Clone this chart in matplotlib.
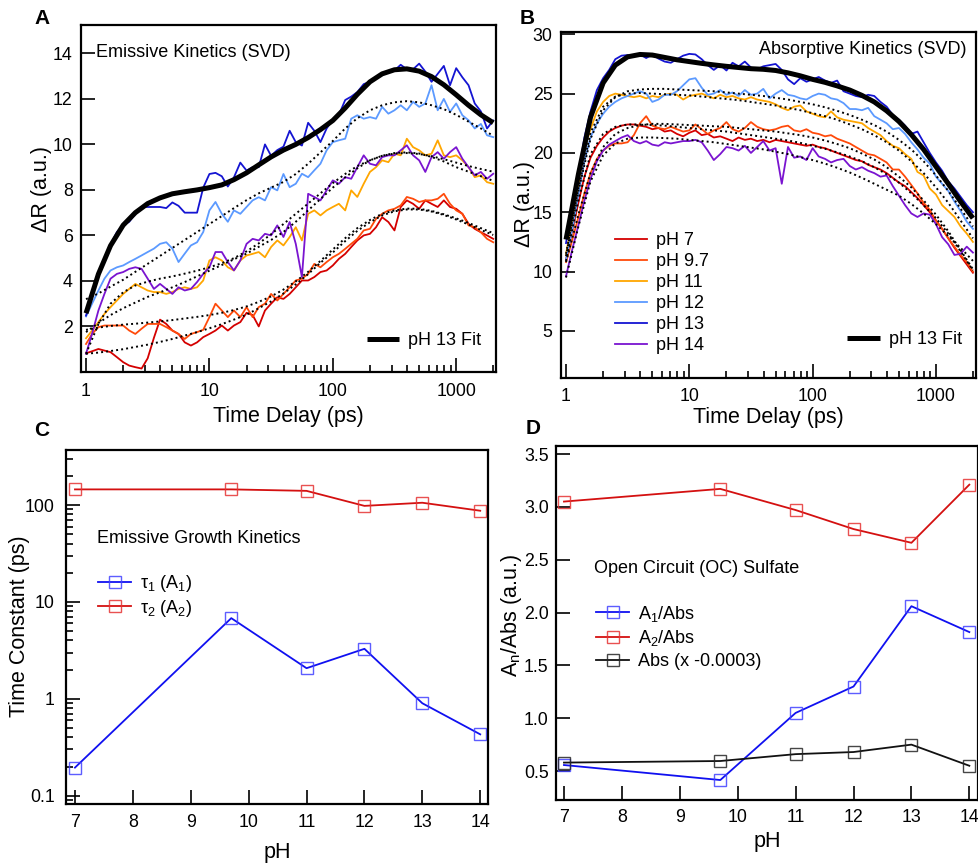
import matplotlib
matplotlib.use('Agg')
import matplotlib.pyplot as plt
from matplotlib.ticker import LogLocator, NullFormatter

plt.rcParams['font.family'] = ['Liberation Sans', 'DejaVu Sans']
plt.rcParams['mathtext.fontset'] = 'custom'
plt.rcParams['mathtext.rm'] = 'Liberation Sans'
plt.rcParams['mathtext.it'] = 'Liberation Sans:italic'
plt.rcParams['mathtext.bf'] = 'Liberation Sans:bold'

# ---------------- data ----------------
time_ps = [1.00, 1.12, 1.26, 1.41, 1.58, 1.78, 2.00, 2.24, 2.51, 2.82, 3.16, 3.55, 3.98, 4.47,
           5.01, 5.62, 6.31, 7.08, 7.94, 8.91, 10.0, 11.2, 12.6, 14.1, 15.8, 17.8, 20.0, 22.4,
           25.1, 28.2, 31.6, 35.5, 39.8, 44.7, 50.1, 56.2, 63.1, 70.8, 79.4, 89.1, 100, 112,
           126, 141, 158, 178, 200, 224, 251, 282, 316, 355, 398, 447, 501, 562, 631, 708,
           794, 891, 1000, 1122, 1259, 1413, 1585, 1778, 1995]
fit_time_ps = [1.00, 1.26, 1.58, 2.00, 2.51, 3.16, 3.98, 5.01, 6.31, 7.94, 10.0, 12.6, 15.8,
               20.0, 25.1, 31.6, 39.8, 50.1, 63.1, 79.4, 100, 126, 158, 200, 251, 316, 398,
               501, 631, 794, 1000, 1259, 1585, 1995]

ph_labels = ['pH 7', 'pH 9.7', 'pH 11', 'pH 12', 'pH 13', 'pH 14']

# Panel A: emissive kinetics (SVD)
emis_ph7 = [0.82, 0.91, 1.01, 0.94, 0.87, 0.65, 0.43, 0.28, 0.21, 0.15, 0.6, 1.5, 2.3, 2.11,
            1.82, 1.67, 1.3, 1.16, 1.3, 1.53, 1.67, 1.82, 2.04, 1.82, 2.04, 2.19, 2.6, 2.5,
            2.0, 2.7, 3.0, 3.28, 3.21, 3.43,
            3.72, 4.02, 4.02, 4.17, 4.39, 4.46, 4.68, 4.97, 5.19, 5.49, 5.78, 6.0, 6.07, 6.36,
            6.8, 6.59, 6.22, 7.25, 7.54, 7.39, 7.17, 7.54, 7.39, 7.25, 7.54, 7.25, 7.17, 6.95,
            6.51, 6.29, 6.14, 6.0, 5.85]
emis_ph97 = [1.23, 1.67, 1.97, 2.04, 2.04, 2.04, 2.04, 1.82, 1.67, 1.9, 2.11, 2.11, 2.11, 1.97,
             1.82, 1.67, 1.45, 1.67, 1.75, 1.85, 2.41, 3.0, 2.7, 2.41, 2.7, 2.41, 2.85, 2.41,
             2.85, 3.0, 3.43, 3.14, 3.43, 3.72,
             4.02, 4.1, 4.31, 4.75, 4.6, 4.83, 5.04, 5.19, 5.41, 5.63, 5.85, 6.22, 6.29, 6.73,
             6.95, 7.1, 7.17, 7.32, 7.69, 7.61, 7.47, 7.54, 7.54, 7.61, 7.83, 7.39, 7.1, 6.95,
             6.44, 6.36, 6.14, 5.85, 5.7]
emis_ph11 = [1.48, 1.82, 2.19, 2.55, 2.85, 3.14, 3.43, 3.65, 3.87, 3.72, 3.58, 3.51, 3.51, 3.43,
             3.51, 3.65, 3.72, 3.65, 3.72, 4.02, 4.9, 5.04, 4.9, 4.6, 4.46, 4.9, 5.12, 5.19,
             5.27, 5.04, 5.49, 5.78, 5.56, 5.93,
             6.36, 5.78, 6.95, 7.1, 6.88, 7.1, 7.25, 7.39, 7.1, 7.98, 7.69, 8.27, 8.79, 9.0,
             9.3, 9.22, 9.59, 9.52, 10.25, 9.88, 9.74, 9.52, 9.59, 10.18, 9.52, 9.44, 9.52, 9.3,
             9.0, 8.56, 8.64, 8.34, 8.27]
emis_ph12 = [2.44, 3.0, 3.58, 4.1, 4.46, 4.6, 4.68, 4.83, 4.97, 5.12, 5.27, 5.42, 5.63, 5.7,
             5.42, 4.83, 5.2, 5.56, 5.7, 6.15, 7.1, 7.47, 6.95, 6.6, 7.1, 6.95, 7.25, 7.54,
             7.68, 7.54, 8.12, 7.98, 8.7, 8.12,
             8.27, 8.71, 8.56, 8.86, 9.15, 9.74, 10.1, 10.18, 10.25, 11.13, 11.28, 11.13, 11.2,
             11.13, 11.65, 11.35, 11.5, 11.72, 11.5, 11.87, 11.65, 11.8, 12.6, 11.5, 12.0, 11.43,
             11.8, 11.28, 11.06, 10.7, 10.9, 10.4, 10.32]
emis_ph13 = [2.48, 3.3, 4.3, 5.0, 5.6, 6.15, 6.45, 6.6, 6.95, 7.25, 7.25, 7.25, 7.25, 7.2,
             7.45, 7.3, 7.0, 7.0, 7.0, 8.1, 8.7, 8.75, 8.6, 8.15, 8.55, 9.2, 8.85, 9.0,
             9.0, 10.0, 9.5, 9.75, 9.9, 10.6,
             10.1, 9.95, 10.95, 10.6, 10.1, 10.7, 11.1, 11.3, 11.95, 12.1, 12.3, 12.65, 12.75,
             12.95, 13.05, 13.2, 13.25, 13.5, 13.3, 13.3, 13.55, 13.2, 12.75, 13.1, 13.45, 12.6,
             13.35, 12.95, 12.6, 11.8, 11.45, 10.7, 11.05]
emis_ph14 = [0.8, 1.68, 2.7, 3.43, 4.1, 4.31, 4.39, 4.53, 4.6, 4.53, 4.1, 3.65, 3.87, 3.65,
             3.43, 3.72, 3.58, 3.65, 3.95, 4.31, 4.6, 5.27, 5.27, 4.83, 4.46, 4.9, 5.63, 5.85,
             5.78, 6.07, 6.0, 6.44, 5.93, 6.59,
             5.63, 4.17, 7.83, 7.69, 7.54, 7.98, 8.42, 8.27, 8.56, 8.49, 9.0, 9.52, 9.15, 9.08,
             9.44, 9.52, 9.52, 9.74, 9.96, 9.52, 9.3, 8.79, 9.44, 9.66, 9.37, 9.66, 9.88, 9.37,
             9.0, 8.64, 8.79, 8.49, 8.71]

emis_fit_ph7 = [0.8, 0.85, 0.92, 1.0, 1.1, 1.2, 1.32, 1.45, 1.6, 1.75, 1.92, 2.1, 2.3, 2.52,
                2.8, 3.1, 3.45, 3.85, 4.3, 4.8, 5.25, 5.75, 6.2, 6.58, 6.88, 7.06, 7.14, 7.14,
                7.05, 6.9, 6.7, 6.48, 6.24, 6.02]
emis_fit_ph97 = [1.85, 1.95, 2.02, 2.08, 2.12, 2.17, 2.22, 2.28, 2.35, 2.42, 2.5, 2.6, 2.72,
                 2.88, 3.08, 3.32, 3.62, 3.98, 4.4, 4.88, 5.38, 5.88, 6.32, 6.68, 6.95, 7.1,
                 7.18, 7.17, 7.08, 6.93, 6.75, 6.55, 6.32, 6.1]
emis_fit_ph11 = [1.75, 2.15, 2.5, 2.8, 3.05, 3.3, 3.5, 3.72, 3.95, 4.2, 4.45, 4.7, 4.95, 5.2,
                 5.5, 5.8, 6.15, 6.6, 7.1, 7.6, 8.1, 8.55, 8.95, 9.3, 9.5, 9.62, 9.65, 9.6,
                 9.45, 9.25, 9.0, 8.8, 8.6, 8.4]
emis_fit_ph12 = [3.2, 3.45, 3.75, 4.05, 4.4, 4.75, 5.1, 5.45, 5.8, 6.15, 6.5, 6.85, 7.2, 7.55,
                 7.85, 8.1, 8.35, 8.7, 9.15, 9.65, 10.15, 10.7, 11.15, 11.5, 11.72, 11.85, 11.9,
                 11.85, 11.72, 11.55, 11.3, 11.0, 10.7, 10.38]
emis_fit_ph13 = [2.58, 4.3, 5.55, 6.45, 7.0, 7.4, 7.65, 7.83, 7.92, 8.0, 8.1, 8.22, 8.45, 8.75,
                 9.1, 9.45, 9.75, 10.0, 10.3, 10.65, 11.05, 11.6, 12.2, 12.75, 13.1, 13.28,
                 13.32, 13.22, 12.98, 12.62, 12.18, 11.72, 11.3, 10.95]
emis_fit_ph14 = [0.8, 2.1, 3.0, 3.5, 3.8, 3.97, 4.1, 4.2, 4.32, 4.45, 4.6, 4.78, 5.0, 5.3,
                 5.65, 6.05, 6.5, 6.95, 7.4, 7.85, 8.3, 8.7, 9.05, 9.3, 9.5, 9.6, 9.62, 9.58,
                 9.48, 9.35, 9.2, 9.05, 8.92, 8.8]

# Panel B: absorptive kinetics (SVD)
abs_ph7 = [11.0, 13.4, 15.8, 18.0, 19.6, 20.6, 21.3, 21.8, 22.1, 22.3, 22.4, 22.4, 22.3, 22.2,
           22.0, 22.1, 21.8, 21.9, 21.6, 21.4, 21.7, 21.9, 21.5, 21.6, 21.3, 21.4, 21.2, 21.0,
           21.3, 21.1, 21.2, 21.0, 21.1, 20.9,
           21.1, 21.0, 20.9, 20.8, 20.7, 20.6, 20.7, 20.5, 20.4, 20.2, 20.0, 19.8, 19.6, 19.4,
           19.3, 19.0, 18.8, 18.6, 18.3, 17.9, 17.5, 17.2, 16.7, 16.2, 15.6, 15.0, 14.3, 13.6,
           12.8, 12.0, 11.3, 10.6, 9.9]
abs_ph97 = [10.8, 12.6, 14.6, 16.6, 18.3, 19.5, 20.2, 20.6, 20.8, 20.8, 20.9, 21.5, 22.5, 23.1,
            22.3, 22.1, 22.0, 22.2, 22.0, 21.8, 21.9, 22.4, 22.0, 21.6, 21.9, 22.1, 22.6, 22.0,
            21.8, 22.1, 22.6, 22.2, 22.0, 21.9,
            22.0, 22.2, 22.3, 21.9, 21.8, 22.0, 21.7, 21.6, 21.4, 21.5, 21.2, 21.0, 20.8, 20.5,
            20.2, 19.9, 19.8, 19.5, 19.2, 18.6, 18.6, 18.0, 17.3, 16.6, 15.8, 15.2, 14.3, 13.6,
            12.8, 12.1, 11.4, 10.8, 10.0]
abs_ph11 = [11.5, 14.2, 17.2, 20.3, 22.0, 23.5, 24.3, 24.8, 25.0, 24.9, 24.8, 24.7, 24.8, 24.6,
            24.8, 24.7, 24.9, 25.0, 24.9, 24.5, 24.8, 24.9, 25.0, 24.8, 24.6, 24.9, 24.7, 24.8,
            24.6, 24.5, 24.7, 24.5, 24.4, 24.3,
            24.1, 23.8, 23.6, 23.9, 24.0, 23.5, 23.3, 23.1, 23.0, 23.5, 23.0, 22.8, 22.7, 22.6,
            22.5, 22.1, 21.8, 21.5, 21.0, 20.6, 20.4, 19.9, 19.5, 18.4, 18.1, 17.0, 16.5, 15.6,
            15.1, 14.6, 13.8, 13.2, 12.5]
abs_ph12 = [11.0, 13.5, 16.5, 19.3, 21.3, 22.5, 23.3, 23.9, 24.3, 24.6, 24.8, 25.0, 25.2, 25.0,
            24.3, 24.5, 24.9, 24.9, 25.2, 25.7, 26.2, 26.3, 25.5, 24.9, 25.0, 25.3, 24.9, 25.1,
            24.8, 25.3, 24.9, 25.0, 25.4, 24.6,
            25.0, 25.3, 24.9, 24.8, 24.6, 24.5, 24.8, 25.0, 24.9, 24.6, 24.5, 24.2, 23.7, 23.7,
            23.6, 23.8, 23.1, 22.8, 22.5, 22.0, 22.1, 21.6, 20.9, 20.3, 19.6, 19.1, 18.0, 17.4,
            16.8, 15.9, 15.1, 14.2, 13.6]
abs_ph13 = [12.4, 15.4, 18.2, 21.3, 23.5, 25.3, 26.3, 27.0, 27.9, 28.2, 28.25, 28.2, 28.3, 28.0,
            28.3, 27.95, 27.7, 27.6, 27.9, 28.2, 28.35, 28.3, 27.9, 27.4, 27.0, 27.4, 26.95, 27.6,
            27.3, 27.7, 27.2, 27.05, 27.3, 27.4,
            27.5, 27.0, 26.2, 25.8, 26.3, 26.0, 26.2, 26.4, 26.1, 25.9, 26.1, 25.2, 25.0, 24.8,
            24.7, 24.9, 24.8, 24.3, 23.9, 23.2, 22.8, 22.3, 21.6, 21.8, 20.9, 20.0, 19.2, 18.5,
            17.6, 17.0, 16.3, 15.6, 15.0]
abs_ph14 = [9.6, 11.8, 13.9, 16.0, 17.8, 19.3, 20.2, 20.7, 21.0, 21.3, 21.5, 21.0, 20.8, 21.0,
            20.7, 20.6, 20.9, 20.8, 20.9, 21.0, 21.0, 21.1, 20.9, 20.2, 19.4, 19.9, 20.5, 20.4,
            20.2, 20.6, 20.0, 20.5, 21.0, 20.2,
            20.4, 17.4, 20.5, 19.6, 19.7, 19.4, 20.4, 19.7, 19.5, 19.2, 19.4, 19.5, 18.9, 18.6,
            18.8, 18.5, 18.3, 18.0, 18.1, 17.2, 16.4, 15.6, 14.9, 14.6, 14.9, 14.8, 14.0, 12.9,
            12.3, 11.4, 11.5, 12.1, 11.6]

abs_fit_ph7 = [10.9, 16.0, 19.9, 21.6, 22.2, 22.4, 22.4, 22.35, 22.3, 22.2, 22.1, 22.0, 21.9,
               21.8, 21.65, 21.5, 21.35, 21.2, 21.05, 20.85, 20.6, 20.35, 20.05, 19.7, 19.3,
               18.8, 18.2, 17.5, 16.6, 15.6, 14.5, 13.2, 11.7, 10.1]
abs_fit_ph97 = [10.8, 14.8, 18.3, 20.5, 21.6, 22.1, 22.35, 22.45, 22.45, 22.4, 22.35, 22.3,
                22.25, 22.2, 22.1, 22.0, 21.9, 21.8, 21.65, 21.5, 21.3, 21.05, 20.75, 20.4,
                19.95, 19.45, 18.8, 18.0, 17.1, 16.0, 14.8, 13.4, 11.8, 10.2]
abs_fit_ph11 = [11.5, 17.0, 21.7, 23.9, 24.75, 25.0, 25.05, 25.0, 24.95, 24.9, 24.85, 24.75,
                24.65, 24.55, 24.45, 24.3, 24.15, 24.0, 23.8, 23.6, 23.35, 23.1, 22.8, 22.4,
                22.0, 21.5, 20.9, 20.2, 19.3, 18.3, 17.1, 15.8, 14.3, 12.8]
abs_fit_ph12 = [11.3, 16.8, 21.2, 23.6, 24.7, 25.2, 25.35, 25.4, 25.4, 25.35, 25.3, 25.25,
                25.2, 25.1, 25.0, 24.9, 24.8, 24.65, 24.5, 24.3, 24.1, 23.85, 23.55, 23.2,
                22.8, 22.35, 21.8, 21.1, 20.3, 19.3, 18.1, 16.8, 15.3, 13.8]
abs_fit_ph13 = [12.7, 18.2, 23.0, 25.9, 27.4, 28.1, 28.3, 28.25, 28.05, 27.85, 27.7, 27.55,
                27.42, 27.3, 27.2, 27.1, 27.05, 26.95, 26.75, 26.5, 26.2, 25.95, 25.65, 25.3,
                24.85, 24.3, 23.55, 22.65, 21.55, 20.3, 18.85, 17.4, 15.9, 14.5]
abs_fit_ph14 = [9.5, 13.8, 17.6, 19.8, 20.8, 21.2, 21.3, 21.3, 21.25, 21.2, 21.1, 21.0, 20.9,
                20.75, 20.6, 20.45, 20.3, 20.1, 19.9, 19.65, 19.4, 19.1, 18.75, 18.35, 17.9,
                17.4, 16.9, 16.4, 15.7, 14.9, 14.0, 13.0, 12.0, 10.9]

# Panel C: emissive growth time constants
ph_values = [7, 9.7, 11, 12, 13, 14]
tau1_ps = [0.195, 6.8, 2.07, 3.28, 0.90, 0.43]
tau2_ps = [145, 145, 140, 98, 105.6, 87.3]

# Panel D: amplitude ratios, open circuit sulfate
a1_abs = [0.557, 0.415, 1.05, 1.30, 2.06, 1.815]
a2_abs = [3.05, 3.17, 2.97, 2.79, 2.66, 3.21]
abs_scaled = [0.58, 0.595, 0.66, 0.68, 0.75, 0.55]

# ---------------- styling ----------------
trace_colors = ['#D40000', '#FF4A0A', '#FFA600', '#5C9AFF', '#1414D2', '#7A14D0']
fit_color = 'black'
LBL = 15.5
TXT = 13
TCK = 12.8

fig = plt.figure(figsize=(9.79, 8.63), dpi=100)
axA = fig.add_axes([0.0827, 0.5690, 0.4239, 0.4021])
axB = fig.add_axes([0.5730, 0.5616, 0.4236, 0.4010])
axC = fig.add_axes([0.0674, 0.0680, 0.4314, 0.4106])
axD = fig.add_axes([0.5676, 0.0730, 0.4317, 0.4102])


def style(ax, xpad, ypad):
    for s in ax.spines.values():
        s.set_linewidth(1.6)
    ax.tick_params(which='both', direction='in', top=False, right=False, width=1.2,
                   labelsize=TCK)
    ax.tick_params(which='major', length=10)
    ax.tick_params(which='minor', length=5)
    ax.tick_params(axis='x', pad=xpad)
    ax.tick_params(axis='y', pad=ypad)


def log_time_axis(ax):
    ax.set_xscale('log')
    ax.set_xlim(0.91, 2100)
    ax.set_xticks([1, 10, 100, 1000], labels=['1', '10', '100', '1000'])
    ax.xaxis.set_minor_locator(LogLocator(base=10, subs=range(2, 10), numticks=20))
    ax.xaxis.set_minor_formatter(NullFormatter())


def set_labels(ax, xl, yl, xpos, ypos):
    ax.set_xlabel(xl, fontsize=LBL)
    ax.set_ylabel(yl, fontsize=LBL)
    ax.xaxis.set_label_coords(*xpos)
    ax.yaxis.set_label_coords(*ypos)
    ax.xaxis.label.set_verticalalignment('center')
    ax.yaxis.label.set_verticalalignment('center')
    ax.yaxis.label.set_horizontalalignment('center')


# ---- Panel A ----
emis_data = [emis_ph7, emis_ph97, emis_ph11, emis_ph12, emis_ph13, emis_ph14]
emis_fits = [emis_fit_ph7, emis_fit_ph97, emis_fit_ph11, emis_fit_ph12, emis_fit_ph14]
for vals, c in zip(emis_data, trace_colors):
    axA.plot(time_ps, vals, color=c, lw=1.3)
for vals in emis_fits:
    axA.plot(fit_time_ps, vals, color=fit_color, lw=1.4, ls=(0, (1, 1.6)))
fitA, = axA.plot(fit_time_ps, emis_fit_ph13, color='black', lw=3.6, solid_capstyle='butt')
log_time_axis(axA)
axA.set_ylim(0, 15.25)
axA.set_yticks([2, 4, 6, 8, 10, 12, 14])
style(axA, 8.2, 6)
set_labels(axA, 'Time Delay (ps)', '\u0394R (a.u.)', (0.5, -0.127), (-0.096, 0.527))
axA.text(0.036, 0.920, 'Emissive Kinetics (SVD)', transform=axA.transAxes, fontsize=TXT,
         va='center', ha='left')
axA.legend([fitA], ['pH 13 Fit'], loc='center left', bbox_to_anchor=(0.689, 0.090),
           frameon=False, fontsize=TXT, handlelength=1.8, handletextpad=0.5,
           borderpad=0, borderaxespad=0)

# ---- Panel B ----
abs_data = [abs_ph7, abs_ph97, abs_ph11, abs_ph12, abs_ph13, abs_ph14]
abs_fits = [abs_fit_ph7, abs_fit_ph97, abs_fit_ph11, abs_fit_ph12, abs_fit_ph14]
handlesB = []
for vals, c, lab in zip(abs_data, trace_colors, ph_labels):
    h, = axB.plot(time_ps, vals, color=c, lw=1.3, label=lab)
    handlesB.append(h)
for vals in abs_fits:
    axB.plot(fit_time_ps, vals, color=fit_color, lw=1.4, ls=(0, (1, 1.6)))
fitB, = axB.plot(fit_time_ps, abs_fit_ph13, color='black', lw=3.6, solid_capstyle='butt')
log_time_axis(axB)
axB.set_ylim(1.0, 30.17)
axB.set_yticks([5, 10, 15, 20, 25, 30])
style(axB, 6.8, 6)
set_labels(axB, 'Time Delay (ps)', '\u0394R (a.u.)', (0.5, -0.113), (-0.089, 0.504))
axB.text(0.979, 0.949, 'Absorptive Kinetics (SVD)', transform=axB.transAxes, fontsize=TXT,
         va='center', ha='right')
legB = axB.legend(handlesB, ph_labels, loc='center left', bbox_to_anchor=(0.130, 0.246),
                  frameon=False, fontsize=TXT, handlelength=1.8, handletextpad=0.5,
                  labelspacing=0.22, borderpad=0, borderaxespad=0)
axB.add_artist(legB)
axB.legend([fitB], ['pH 13 Fit'], loc='center left', bbox_to_anchor=(0.690, 0.111),
           frameon=False, fontsize=TXT, handlelength=1.8, handletextpad=0.5,
           borderpad=0, borderaxespad=0)

# ---- Panel C ----
mk = dict(marker='s', markersize=8, markerfacecolor='none', markeredgewidth=1.0, lw=1.3)
l1, = axC.plot(ph_values, tau1_ps, color='#1010F0', markeredgecolor=(0.25, 0.25, 1.0, 0.85), **mk)
l2, = axC.plot(ph_values, tau2_ps, color='#D41010', markeredgecolor=(0.9, 0.2, 0.2, 0.85), **mk)
axC.set_yscale('log')
axC.set_ylim(0.0815, 370)
axC.set_xlim(6.845, 14.14)
axC.set_yticks([0.1, 1, 10, 100], labels=['0.1', '1', '10', '100'])
axC.yaxis.set_minor_locator(LogLocator(base=10, subs=range(2, 10), numticks=20))
axC.yaxis.set_minor_formatter(NullFormatter())
axC.set_xticks(range(7, 15))
style(axC, 6.8, 8)
set_labels(axC, 'pH', 'Time Constant (ps)', (0.5, -0.135), (-0.109, 0.504))
axC.text(0.0727, 0.749, 'Emissive Growth Kinetics', transform=axC.transAxes, fontsize=TXT,
         va='center', ha='left')
axC.legend([l1, l2], ['\u03c4$_1$ (A$_1$)', '\u03c4$_2$ (A$_2$)'], loc='center left',
           bbox_to_anchor=(0.0758, 0.588), frameon=False, fontsize=TXT, handlelength=1.85,
           handletextpad=0.5, labelspacing=0.2, borderpad=0, borderaxespad=0, numpoints=1)

# ---- Panel D ----
d1, = axD.plot(ph_values, a1_abs, color='#1010F0', markeredgecolor=(0.25, 0.25, 1.0, 0.85), **mk)
d2, = axD.plot(ph_values, a2_abs, color='#D41010', markeredgecolor=(0.9, 0.2, 0.2, 0.85), **mk)
d3, = axD.plot(ph_values, abs_scaled, color='#111111', markeredgecolor=(0.15, 0.15, 0.15, 0.85), **mk)
axD.set_ylim(0.226, 3.576)
axD.set_xlim(6.857, 14.155)
axD.set_yticks([0.5, 1.0, 1.5, 2.0, 2.5, 3.0, 3.5],
               labels=['0.5', '1.0', '1.5', '2.0', '2.5', '3.0', '3.5'])
axD.set_xticks(range(7, 15))
style(axD, 6.3, 5)
set_labels(axD, 'pH', 'A$_\\mathregular{n}$/Abs (a.u.)', (0.5, -0.116), (-0.104, 0.523))
axD.text(0.0906, 0.653, 'Open Circuit (OC) Sulfate', transform=axD.transAxes, fontsize=TXT,
         va='center', ha='left')
axD.legend([d1, d2, d3], ['A$_1$/Abs', 'A$_2$/Abs', 'Abs (x -0.0003)'], loc='center left',
           bbox_to_anchor=(0.0954, 0.461), frameon=False, fontsize=TXT, handlelength=1.85,
           handletextpad=0.5, labelspacing=0.25, borderpad=0, borderaxespad=0, numpoints=1)

# ---- panel letters ----
for lbl, x, y in [('A', 42, 19), ('B', 527, 19), ('C', 42, 430), ('D', 533, 428)]:
    fig.text(x / 979, 1 - y / 863, lbl, fontsize=15, fontweight='bold', ha='center', va='center')

fig.savefig('out.png', dpi=100)
